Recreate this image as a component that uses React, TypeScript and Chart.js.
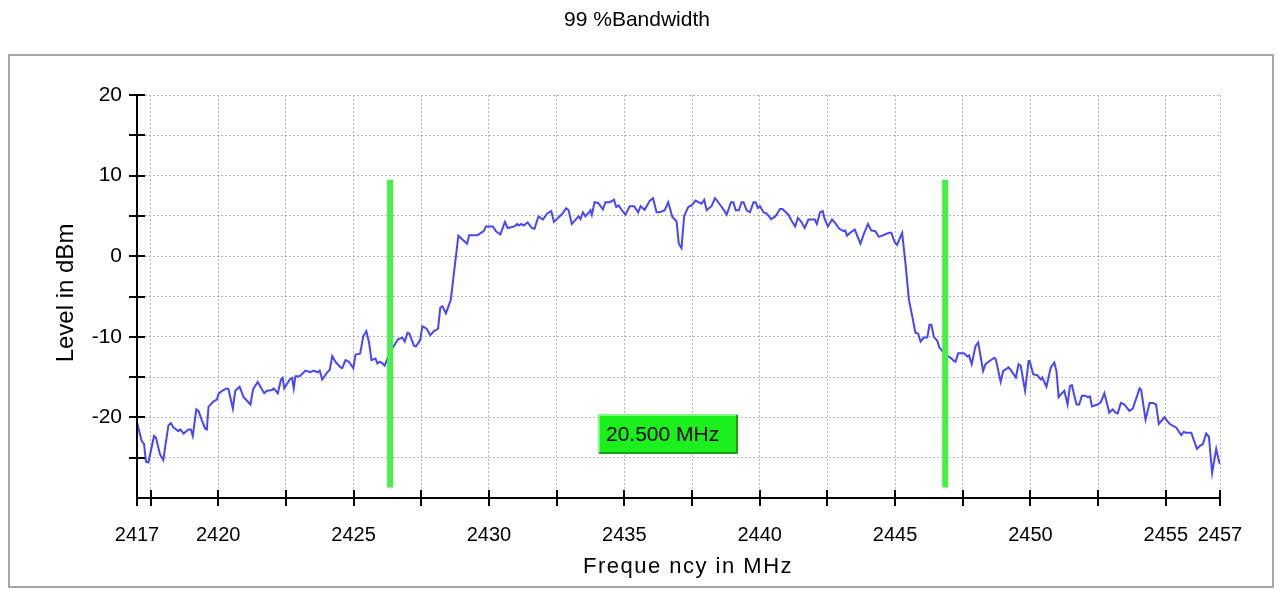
import { useEffect, useRef } from 'react';
import { Chart, registerables } from 'chart.js';

Chart.register(...registerables);

const FONT = '"Liberation Sans", Arial, sans-serif';

const CHART_TITLE = '99 %Bandwidth';
const X_TITLE = 'Freque ncy in MHz';
const Y_TITLE = 'Level in dBm';

const X_MIN = 2417;
const X_MAX = 2457;
const Y_MIN = -30;
const Y_MAX = 20;

const X_LABELS = [2417, 2420, 2425, 2430, 2435, 2440, 2445, 2450, 2455, 2457];
const X_GRID = [2417.5, 2420, 2422.5, 2425, 2427.5, 2430, 2432.5, 2435, 2437.5, 2440, 2442.5, 2445, 2447.5, 2450, 2452.5, 2455, 2457];
const Y_LABELS = [-20, -10, 0, 10, 20];
const Y_GRID = [-25, -20, -15, -10, -5, 0, 5, 10, 15, 20];

const FREQ_MHZ = [
  2417.0, 2417.17, 2417.26, 2417.33, 2417.42, 2417.63, 2417.7, 2417.85, 2417.97, 2418.16,
  2418.25, 2418.35, 2418.53, 2418.6, 2418.72, 2418.9, 2418.99, 2419.06, 2419.19, 2419.27,
  2419.4, 2419.52, 2419.58, 2419.64, 2419.83, 2419.95, 2420.01, 2420.14, 2420.32, 2420.38,
  2420.54, 2420.63, 2420.79, 2420.94, 2421.19, 2421.29, 2421.46, 2421.56, 2421.7, 2421.8,
  2421.99, 2422.05, 2422.2, 2422.32, 2422.38, 2422.44, 2422.64, 2422.73, 2422.79, 2422.85,
  2423.01, 2423.16, 2423.22, 2423.41, 2423.53, 2423.66, 2423.75, 2423.84, 2424.03, 2424.12,
  2424.21, 2424.33, 2424.52, 2424.58, 2424.7, 2424.83, 2424.99, 2425.07, 2425.24, 2425.36,
  2425.47, 2425.57, 2425.66, 2425.81, 2425.88, 2425.97, 2426.06, 2426.15, 2426.25, 2426.4,
  2426.49, 2426.64, 2426.8, 2426.89, 2426.99, 2427.06, 2427.23, 2427.3, 2427.46, 2427.54,
  2427.7, 2427.83, 2427.97, 2428.12, 2428.2, 2428.28, 2428.41, 2428.59, 2428.72, 2428.87,
  2429.03, 2429.19, 2429.27, 2429.58, 2429.7, 2429.8, 2429.89, 2430.14, 2430.26, 2430.42,
  2430.59, 2430.69, 2430.81, 2430.94, 2431.04, 2431.1, 2431.19, 2431.29, 2431.43, 2431.58,
  2431.68, 2431.83, 2431.99, 2432.15, 2432.3, 2432.4, 2432.54, 2432.73, 2432.85, 2432.94,
  2433.06, 2433.22, 2433.31, 2433.38, 2433.47, 2433.56, 2433.66, 2433.75, 2433.8, 2433.9,
  2434.03, 2434.21, 2434.3, 2434.46, 2434.62, 2434.7, 2434.79, 2434.91, 2435.04, 2435.2,
  2435.36, 2435.51, 2435.6, 2435.75, 2435.94, 2436.06, 2436.19, 2436.31, 2436.49, 2436.62,
  2436.77, 2436.93, 2437.01, 2437.11, 2437.21, 2437.36, 2437.48, 2437.63, 2437.85, 2437.95,
  2438.04, 2438.22, 2438.35, 2438.49, 2438.66, 2438.78, 2438.94, 2439.03, 2439.11, 2439.23,
  2439.33, 2439.4, 2439.52, 2439.64, 2439.77, 2439.85, 2439.93, 2440.01, 2440.14, 2440.26,
  2440.42, 2440.57, 2440.75, 2440.84, 2441.06, 2441.21, 2441.31, 2441.41, 2441.53, 2441.66,
  2441.8, 2442.03, 2442.11, 2442.23, 2442.33, 2442.4, 2442.52, 2442.67, 2442.79, 2442.94,
  2443.1, 2443.16, 2443.22, 2443.35, 2443.51, 2443.72, 2443.84, 2444.0, 2444.12, 2444.27,
  2444.4, 2444.52, 2444.77, 2444.86, 2444.99, 2445.07, 2445.26, 2445.38, 2445.51, 2445.63,
  2445.75, 2445.85, 2445.94, 2446.06, 2446.19, 2446.27, 2446.34, 2446.43, 2446.56, 2446.64,
  2446.74, 2446.9, 2447.09, 2447.17, 2447.23, 2447.33, 2447.54, 2447.67, 2447.73, 2447.83,
  2447.97, 2448.07, 2448.25, 2448.34, 2448.49, 2448.66, 2448.72, 2448.9, 2448.99, 2449.19,
  2449.27, 2449.46, 2449.56, 2449.64, 2449.8, 2449.93, 2449.97, 2450.1, 2450.26, 2450.38,
  2450.44, 2450.59, 2450.75, 2450.88, 2450.96, 2451.04, 2451.16, 2451.25, 2451.37, 2451.46,
  2451.53, 2451.7, 2451.8, 2451.9, 2452.03, 2452.11, 2452.2, 2452.27, 2452.48, 2452.6,
  2452.73, 2452.91, 2453.04, 2453.14, 2453.22, 2453.34, 2453.47, 2453.65, 2453.78, 2454.03,
  2454.09, 2454.25, 2454.4, 2454.52, 2454.64, 2454.74, 2454.95, 2455.04, 2455.14, 2455.23,
  2455.38, 2455.57, 2455.66, 2455.75, 2455.81, 2455.94, 2456.0, 2456.15, 2456.27, 2456.37,
  2456.49, 2456.59, 2456.71, 2456.86, 2456.96, 2457.0,
];

const LEVEL_DBM = [
  -20.6, -22.9, -23.3, -25.5, -25.6, -22.3, -22.5, -24.6, -25.3, -21.0,
  -20.7, -21.25, -21.7, -21.5, -22.0, -21.5, -21.5, -22.3, -19.0, -19.2,
  -20.4, -21.4, -21.5, -18.7, -18.0, -17.8, -17.1, -16.7, -16.4, -16.5,
  -18.9, -16.7, -16.2, -17.5, -18.4, -16.5, -15.6, -16.2, -17.0, -16.7,
  -16.6, -16.4, -17.0, -15.3, -15.1, -16.4, -15.3, -15.1, -16.4, -14.9,
  -14.9, -14.4, -14.2, -14.4, -14.2, -14.4, -14.2, -15.3, -14.4, -14.1,
  -12.4, -13.1, -13.8, -13.9, -12.9, -13.1, -13.9, -12.2, -12.1, -9.9,
  -9.3, -10.7, -12.9, -12.7, -13.3, -13.1, -13.3, -13.6, -12.7, -11.6,
  -11.1, -10.3, -10.1, -10.6, -9.5, -9.6, -11.1, -11.2, -10.4, -8.7,
  -9.0, -9.8, -9.3, -9.0, -6.4, -6.2, -7.1, -5.4, -1.7, 2.55,
  2.05, 1.55, 2.6, 2.6, 2.9, 3.1, 3.7, 3.7, 3.1, 2.7,
  4.25, 3.5, 3.6, 3.7, 4.0, 3.8, 4.0, 3.8, 4.2, 3.5,
  3.4, 4.95, 4.55, 5.3, 5.6, 4.25, 4.7, 5.35, 5.95, 5.7,
  4.0, 4.6, 4.95, 4.6, 5.45, 4.95, 5.3, 5.7, 5.15, 6.7,
  6.6, 5.8, 6.7, 6.7, 7.0, 6.1, 6.3, 5.7, 5.15, 6.2,
  6.2, 5.45, 6.2, 5.75, 6.9, 7.2, 5.45, 5.45, 5.7, 6.7,
  4.9, 4.3, 1.55, 1.0, 5.0, 6.1, 6.3, 6.9, 6.5, 7.0,
  5.7, 6.2, 7.2, 6.6, 5.8, 5.15, 6.7, 6.7, 5.7, 5.7,
  6.7, 6.7, 5.7, 5.45, 6.7, 6.7, 6.0, 6.2, 5.45, 5.3,
  4.6, 4.9, 5.85, 5.85, 5.15, 4.2, 3.7, 4.75, 4.3, 3.5,
  4.55, 4.55, 4.0, 5.45, 5.6, 4.6, 3.7, 4.55, 4.1, 3.4,
  3.1, 3.2, 2.55, 2.95, 3.3, 1.55, 2.7, 4.0, 3.2, 3.1,
  2.4, 2.55, 2.9, 2.9, 1.7, 1.4, 2.9, -0.8, -5.4, -7.4,
  -9.5, -9.6, -10.6, -10.1, -10.1, -8.5, -8.5, -10.0, -10.5, -11.35,
  -11.75, -12.3, -12.7, -13.0, -13.1, -12.05, -12.05, -12.45, -12.3, -13.4,
  -11.15, -10.7, -14.25, -13.4, -13.0, -12.6, -12.8, -15.6, -14.25, -13.8,
  -14.1, -15.05, -13.4, -13.6, -16.7, -13.0, -13.0, -14.65, -14.8, -15.3,
  -15.05, -16.2, -13.8, -13.2, -14.25, -17.5, -17.0, -16.7, -18.4, -16.1,
  -16.0, -18.4, -18.4, -17.3, -17.3, -17.5, -17.4, -18.65, -18.4, -18.1,
  -17.0, -19.4, -19.0, -19.4, -19.5, -18.2, -18.4, -19.2, -18.9, -16.4,
  -16.6, -20.3, -18.2, -18.2, -18.4, -20.8, -20.0, -20.4, -20.8, -21.0,
  -21.25, -22.2, -21.8, -21.9, -21.9, -21.9, -22.5, -23.9, -23.5, -23.3,
  -22.0, -22.4, -26.9, -23.9, -25.4, -25.8,
];

const OBW_LEFT_MHZ = 2426.35;
const OBW_RIGHT_MHZ = 2446.85;
const OBW_MARK_TOP = 9.5;
const OBW_MARK_BOTTOM = -28.7;
const OBW_TEXT = '20.500 MHz';
const OBW_LABEL_AT = { x: 2436.6, y: -22.05 };

const TRACE_COLOR = '#4646ff';
const MARK_COLOR = '#46f046';
const GRID_COLOR = '#b4b4b4';

const decorPlugin = {
  id: 'decor',
  beforeDraw(chart: any) {
    const ctx = chart.ctx;
    ctx.save();
    ctx.fillStyle = '#ffffff';
    ctx.fillRect(0, 0, chart.width, chart.height);
    ctx.strokeStyle = '#a6a6a6';
    ctx.lineWidth = 2;
    ctx.strokeRect(9, 55, 1264, 532);
    ctx.fillStyle = '#000';
    ctx.font = `21px ${FONT}`;
    ctx.textAlign = 'center';
    ctx.textBaseline = 'middle';
    ctx.fillText(CHART_TITLE, 637, 20);
    ctx.restore();
  },
  afterDraw(chart: any) {
    const ctx = chart.ctx;
    const xs = chart.scales.x;
    const ys = chart.scales.y;
    const { left, right, top, bottom } = chart.chartArea;
    ctx.save();
    ctx.strokeStyle = '#000';
    ctx.lineWidth = 2;
    ctx.lineCap = 'butt';
    ctx.beginPath();
    ctx.moveTo(left, top);
    ctx.lineTo(left, bottom + 8);
    ctx.moveTo(left - 1, bottom);
    ctx.lineTo(right + 1, bottom);
    for (const v of Y_GRID) {
      const p = Math.round(ys.getPixelForValue(v));
      ctx.moveTo(left - 8, p);
      ctx.lineTo(left + 8, p);
    }
    const xt = Array.from(new Set([...X_LABELS, ...X_GRID]));
    for (const v of xt) {
      const p = Math.round(xs.getPixelForValue(v));
      ctx.moveTo(p, bottom - 8);
      ctx.lineTo(p, bottom + 8);
    }
    ctx.stroke();

    // bandwidth label box
    const cx = xs.getPixelForValue(OBW_LABEL_AT.x);
    const cy = ys.getPixelForValue(OBW_LABEL_AT.y);
    const w = 138;
    const h = 38;
    const bx = Math.round(cx - w / 2);
    const by = Math.round(cy - h / 2);
    ctx.fillStyle = '#1cf01c';
    ctx.fillRect(bx, by, w, h);
    ctx.lineWidth = 2;
    ctx.strokeStyle = '#7cff7c';
    ctx.beginPath();
    ctx.moveTo(bx, by + h);
    ctx.lineTo(bx, by);
    ctx.lineTo(bx + w, by);
    ctx.stroke();
    ctx.strokeStyle = '#1f9a1f';
    ctx.beginPath();
    ctx.moveTo(bx + w, by);
    ctx.lineTo(bx + w, by + h);
    ctx.lineTo(bx, by + h);
    ctx.stroke();
    ctx.fillStyle = '#000';
    ctx.font = `21px ${FONT}`;
    ctx.textAlign = 'left';
    ctx.textBaseline = 'middle';
    ctx.fillText(OBW_TEXT, bx + 7, by + h / 2 + 1);

    // axis titles
    ctx.fillStyle = '#000';
    ctx.textAlign = 'center';
    ctx.textBaseline = 'middle';
    ctx.font = `24px ${FONT}`;
    ctx.save();
    ctx.translate(66, 293);
    ctx.rotate(-Math.PI / 2);
    ctx.fillText(Y_TITLE, 0, 0);
    ctx.restore();
    ctx.font = `22px ${FONT}`;
    (ctx as any).letterSpacing = '1.5px';
    ctx.fillText(X_TITLE, 688, 567);
    (ctx as any).letterSpacing = '0px';
    ctx.restore();
  },
};

export default function App() {
  const ref = useRef<HTMLCanvasElement | null>(null);
  useEffect(() => {
    if (!ref.current) return;
    Chart.defaults.font.family = FONT;
    const trace = FREQ_MHZ.map((f, i) => ({ x: f, y: LEVEL_DBM[i] }));
    const mark = (f: number) => [
      { x: f, y: OBW_MARK_TOP },
      { x: f, y: OBW_MARK_BOTTOM },
    ];
    const chart = new Chart(ref.current, {
      type: 'line',
      data: {
        datasets: [
          { data: mark(OBW_LEFT_MHZ), borderColor: MARK_COLOR, borderWidth: 6, pointRadius: 0, borderCapStyle: 'butt' },
          { data: mark(OBW_RIGHT_MHZ), borderColor: MARK_COLOR, borderWidth: 6, pointRadius: 0, borderCapStyle: 'butt' },
          { data: trace, borderColor: TRACE_COLOR, borderWidth: 2, pointRadius: 0, tension: 0 },
        ],
      } as any,
      options: {
        animation: false,
        responsive: false,
        events: [],
        layout: { padding: { left: 0, right: 60, top: 95, bottom: 0 } },
        plugins: {
          legend: { display: false },
          tooltip: { enabled: false },
          title: { display: false },
        },
        scales: {
          x: {
            type: 'linear',
            min: X_MIN,
            max: X_MAX,
            afterBuildTicks: (s: any) => {
              const vals = Array.from(new Set([...X_LABELS, ...X_GRID])).sort((a, b) => a - b);
              s.ticks = vals.map((v) => ({ value: v }));
            },
            afterFit: (s: any) => {
              s.height = 92;
            },
            ticks: {
              autoSkip: false,
              maxRotation: 0,
              padding: 25,
              color: '#000',
              font: { size: 20, family: FONT },
              callback: (v: any) => (X_LABELS.includes(Number(v)) ? String(v) : ''),
            },
            grid: {
              drawTicks: false,
              lineWidth: 1,
              color: (c: any) => (c.tick && c.tick.value === X_MIN ? 'rgba(0,0,0,0)' : GRID_COLOR),
            },
            border: { display: false, dash: [2, 2] },
          },
          y: {
            type: 'linear',
            min: Y_MIN,
            max: Y_MAX,
            afterBuildTicks: (s: any) => {
              s.ticks = [Y_MIN, ...Y_GRID].map((v) => ({ value: v }));
            },
            afterFit: (s: any) => {
              s.width = 137;
            },
            ticks: {
              padding: 15,
              color: '#000',
              font: { size: 21, family: FONT },
              callback: (v: any) => (Y_LABELS.includes(Number(v)) ? String(v) : ''),
            },
            grid: {
              drawTicks: false,
              lineWidth: 1,
              color: (c: any) => (c.tick && c.tick.value === Y_MIN ? 'rgba(0,0,0,0)' : GRID_COLOR),
            },
            border: { display: false, dash: [2, 2] },
          },
        },
      } as any,
      plugins: [decorPlugin],
    });
    return () => chart.destroy();
  }, []);
  return (
    <div style={{ position: 'absolute', left: 0, top: 0, width: 1280, height: 590 }}>
      <canvas ref={ref} width={1280} height={590} style={{ display: 'block', width: 1280, height: 590 }} />
    </div>
  );
}
